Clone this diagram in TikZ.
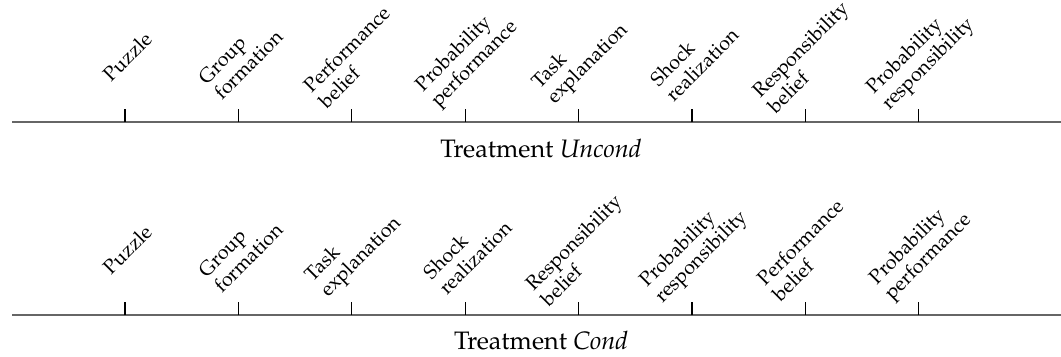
\documentclass[tikz,border=0pt]{standalone}
\usepackage[T1]{fontenc}
\usepackage{mathpazo}
\usetikzlibrary{calc}
\tikzset{
  timeline/.style={draw=black!60, line width=0.75pt},
  tickmark/.style={draw=black, line width=0.4pt},
  evt/.style={rotate=45, align=left, inner sep=0pt,
    font=\fontsize{7.5}{8.2}\selectfont},
  treat/.style={anchor=base, font=\fontsize{9.5}{11}\selectfont}
}
\begin{document}
\begin{tikzpicture}
  \useasboundingbox (0,0) rectangle (14.034,4.709);

  % treatment Uncond
  \coordinate (ua) at (0.159,3.095);
  \coordinate (ub) at (14.034,3.095);
  \draw[timeline] (ua) -- (ub);
  \foreach \txt [count=\i] in {Puzzle, Group\\formation,
    Performance\\belief, Probability\\performance, Task\\explanation,
    Shock\\realization, Responsibility\\belief,
    Probability\\responsibility}{
    \coordinate (u\i) at ({1.653+1.5*(\i-1)},3.095);
    \draw[tickmark] (u\i) -- ++(0,0.17);
    \node[evt] (lu\i) at ($(u\i)+(0.03,0.86)$) {\txt};
  }
  \node[treat] (tu) at (7.156,2.63) {Treatment \textit{Uncond}};

  % treatment Cond
  \coordinate (ca) at (0.159,0.542);
  \coordinate (cb) at (14.034,0.542);
  \draw[timeline] (ca) -- (cb);
  \foreach \txt [count=\i] in {Puzzle, Group\\formation,
    Task\\explanation, Shock\\realization, Responsibility\\belief,
    Probability\\responsibility, Performance\\belief,
    Probability\\performance}{
    \coordinate (c\i) at ({1.653+1.5*(\i-1)},0.542);
    \draw[tickmark] (c\i) -- ++(0,0.17);
    \node[evt] (lc\i) at ($(c\i)+(0.03,0.86)$) {\txt};
  }
  \node[treat] (tc) at (7.156,0.09) {Treatment \textit{Cond}};
\end{tikzpicture}
\end{document}
